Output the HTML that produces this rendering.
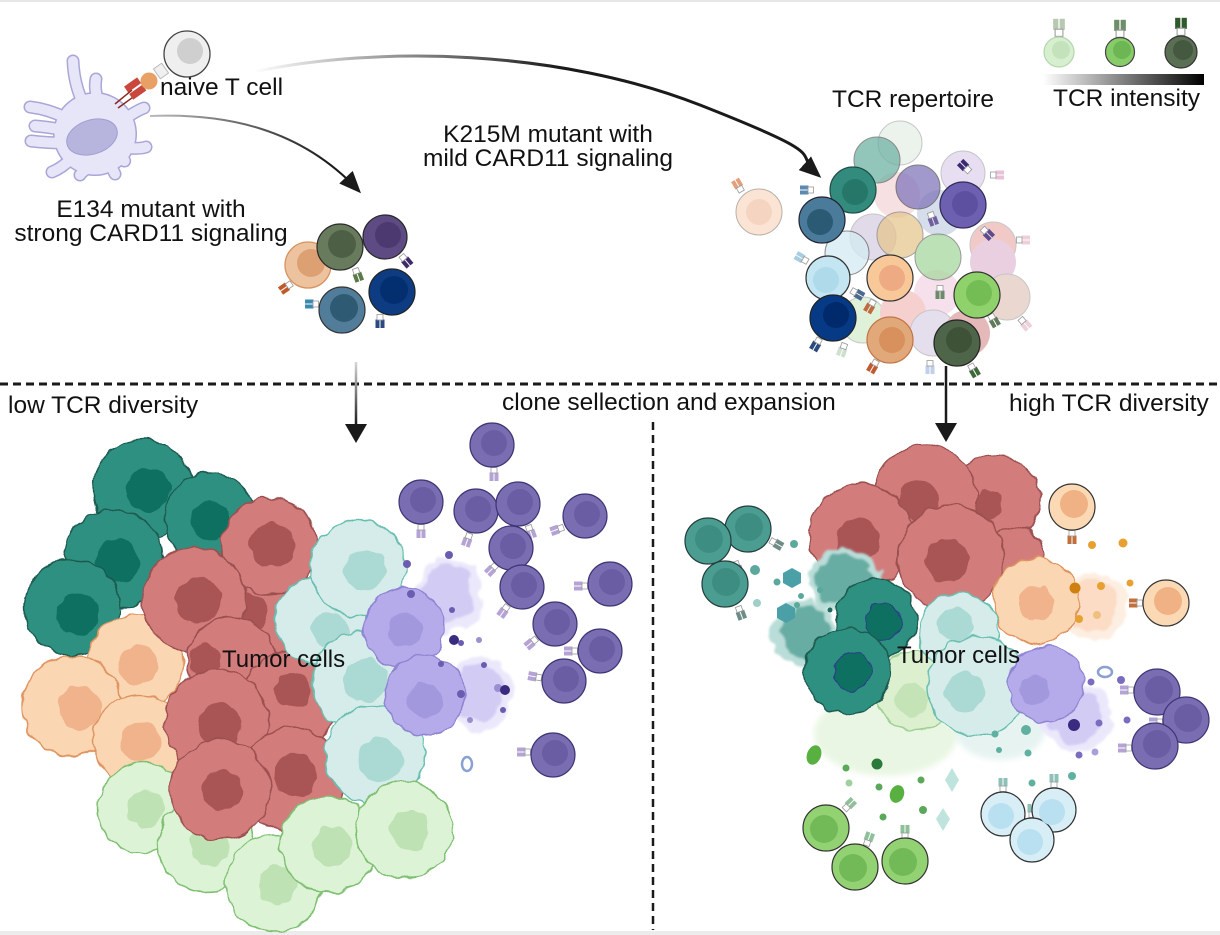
<!DOCTYPE html>
<html><head><meta charset="utf-8"><style>
html,body{margin:0;padding:0;background:#fff;}
svg{display:block;}
text{font-family:"Liberation Sans",Arial,sans-serif;fill:#111;}
</style></head><body>
<svg width="1220" height="935" viewBox="0 0 1220 935" xmlns="http://www.w3.org/2000/svg">
<defs>
<filter id="bump" x="-25%" y="-25%" width="150%" height="150%">
<feTurbulence type="fractalNoise" baseFrequency="0.09" numOctaves="1" seed="4" result="n"/>
<feDisplacementMap in="SourceGraphic" in2="n" scale="9" xChannelSelector="R" yChannelSelector="G"/>
</filter>
<filter id="halo" x="-30%" y="-30%" width="160%" height="160%">
<feTurbulence type="fractalNoise" baseFrequency="0.06" numOctaves="2" seed="7" result="n"/>
<feDisplacementMap in="SourceGraphic" in2="n" scale="16" xChannelSelector="R" yChannelSelector="G" result="d"/>
<feGaussianBlur in="d" stdDeviation="1"/>
</filter>
<filter id="blur" x="-40%" y="-40%" width="180%" height="180%"><feGaussianBlur stdDeviation="3"/></filter>
<linearGradient id="gBig" gradientUnits="userSpaceOnUse" x1="253" y1="0" x2="560" y2="0"><stop offset="0" stop-color="#fff"/><stop offset="1" stop-color="#1a1a1a"/></linearGradient>
<linearGradient id="gSmall" gradientUnits="userSpaceOnUse" x1="150" y1="0" x2="330" y2="0"><stop offset="0" stop-color="#bbb"/><stop offset="1" stop-color="#1a1a1a"/></linearGradient>
<linearGradient id="gV" gradientUnits="userSpaceOnUse" x1="0" y1="360" x2="0" y2="425"><stop offset="0" stop-color="#ddd"/><stop offset="1" stop-color="#1a1a1a"/></linearGradient>
<linearGradient id="gBar" x1="0" y1="0" x2="1" y2="0"><stop offset="0" stop-color="#fff"/><stop offset="1" stop-color="#000"/></linearGradient>
<marker id="ah" viewBox="0 0 10 10" refX="8" refY="5" markerUnits="userSpaceOnUse" markerWidth="22" markerHeight="22" orient="auto"><path d="M0,0.8 L10,5 L0,9.2 z" fill="#1a1a1a"/></marker>
<g id="rc"><rect x="-4.5" y="-14" width="4" height="8.5"/><rect x="0.5" y="-14" width="4" height="8.5"/><rect x="-3" y="-6" width="6" height="5.5" fill="#fff" stroke="#999" stroke-width="0.8"/></g>
</defs>

<rect x="0" y="0" width="1220" height="2" fill="#e6e6e6"/>
<rect x="0" y="931" width="1220" height="4" fill="#ececec"/>

<!-- Dendritic cell -->
<g stroke-linecap="round" fill="none">
<g stroke="#a9a6d8" stroke-width="13">
<path d="M84,105 Q74,85 73,61"/><path d="M98,100 Q94,88 96,79"/><path d="M66,118 Q48,109 30,107"/><path d="M64,130 Q48,127 35,126"/><path d="M66,143 Q48,143 31,141"/><path d="M72,158 Q62,168 52,172"/><path d="M88,168 Q82,172 80,175"/><path d="M112,168 Q114,172 115,174"/><path d="M128,148 Q140,149 146,147"/><path d="M126,118 Q138,110 144,108"/><path d="M122,160 Q126,162 124,160"/>
<circle cx="95" cy="134" r="42" fill="#a9a6d8" stroke="none"/>
</g>
<g stroke="#e7e5f8" stroke-width="10">
<path d="M84,105 Q74,85 73,61"/><path d="M98,100 Q94,88 96,79"/><path d="M66,118 Q48,109 30,107"/><path d="M64,130 Q48,127 35,126"/><path d="M66,143 Q48,143 31,141"/><path d="M72,158 Q62,168 52,172"/><path d="M88,168 Q82,172 80,175"/><path d="M112,168 Q114,172 115,174"/><path d="M128,148 Q140,149 146,147"/><path d="M126,118 Q138,110 144,108"/><path d="M122,160 Q126,162 124,160"/>
<circle cx="95" cy="134" r="40.5" fill="#e7e5f8" stroke="none"/>
</g>
</g>
<ellipse cx="92" cy="137" rx="26" ry="17" transform="rotate(-18 92 137)" fill="#b7b4de" stroke="#a19ed2" stroke-width="1"/>
<!-- MHC / TCR -->
<path d="M115,104 L132,90 M118,108 L136,95" stroke="#8a2a22" stroke-width="1.5"/>
<g transform="translate(136,88) rotate(-35)"><rect x="-9" y="-8" width="16" height="7" fill="#c9473d"/><rect x="-9" y="1" width="16" height="7" fill="#c9473d"/></g>
<circle cx="149" cy="81" r="8.5" fill="#e9a064"/>
<g transform="translate(161,71) rotate(-35)"><rect x="-5" y="-6" width="10" height="12" fill="#f0f0f0" stroke="#bbb" stroke-width="1"/></g>
<circle cx="187" cy="54" r="23" fill="#efefef" stroke="#444" stroke-width="1.3"/>
<circle cx="190" cy="51" r="13" fill="#cfcfcf"/>

<!-- Arrows top -->
<path d="M253,72 C380,45 560,50 700,105 S790,150 818,175" fill="none" stroke="url(#gBig)" stroke-width="3" marker-end="url(#ah)"/>
<path d="M150,116 C225,113 300,128 358,190" fill="none" stroke="url(#gSmall)" stroke-width="2" marker-end="url(#ah)"/>

<!-- Top texts -->
<text x="160" y="95" font-size="24.5">naive T cell</text>
<text x="151" y="217" font-size="24.5" text-anchor="middle">E134 mutant with</text>
<text x="151" y="241" font-size="24.5" text-anchor="middle">strong CARD11 signaling</text>
<text x="548" y="142" font-size="24.5" text-anchor="middle">K215M mutant with</text>
<text x="548" y="166" font-size="24.5" text-anchor="middle">mild CARD11 signaling</text>
<text x="832" y="107" font-size="24.5">TCR repertoire</text>
<text x="1053" y="106" font-size="24.5">TCR intensity</text>

<!-- Legend -->
<rect x="1043" y="74" width="161" height="11" fill="url(#gBar)"/>
<use href="#rc" transform="translate(1059,37) scale(1.3)" fill="#b7c9b2"/>
<circle cx="1059" cy="52" r="15" fill="#d6efcf" stroke="#b5d6ad" stroke-width="1.2"/><circle cx="1061" cy="50" r="9" fill="#c4e2bc"/>
<use href="#rc" transform="translate(1120,38) scale(1.3)" fill="#6f8e6a"/>
<circle cx="1120" cy="52" r="14.5" fill="#86cc68" stroke="#444" stroke-width="1.2"/><circle cx="1122" cy="50" r="9" fill="#6cb654"/>
<use href="#rc" transform="translate(1181,36) scale(1.3)" fill="#2f5a2c"/>
<circle cx="1181" cy="52" r="16" fill="#5b6f55" stroke="#333" stroke-width="1.2"/><circle cx="1183" cy="50" r="10" fill="#455840"/>

<!-- E134 cluster -->
<use href="#rc" transform="translate(292,283) rotate(235)" fill="#c05a28"/>
<use href="#rc" transform="translate(355,268) rotate(160)" fill="#5a7a48"/>
<use href="#rc" transform="translate(401,255) rotate(140)" fill="#3c2a6a"/>
<use href="#rc" transform="translate(319,304) rotate(270)" fill="#3a8ab0"/>
<use href="#rc" transform="translate(380,314) rotate(180)" fill="#2a4a80"/>
<circle cx="308" cy="265" r="23" fill="#edc29e" stroke="#d8925e" stroke-width="1.3"/><circle cx="311" cy="263" r="14" fill="#dda073"/>
<circle cx="385" cy="237" r="22" fill="#5f4b83" stroke="#2a2a2a" stroke-width="1.2"/><circle cx="388" cy="235" r="13" fill="#4c396f"/>
<circle cx="340" cy="247" r="23" fill="#687b5d" stroke="#2a2a2a" stroke-width="1.2"/><circle cx="342" cy="244" r="14" fill="#4d6045"/>
<circle cx="342" cy="310" r="23" fill="#517d9b" stroke="#333" stroke-width="1.2"/><circle cx="344" cy="308" r="14" fill="#2f5a74"/>
<circle cx="392" cy="292" r="23" fill="#0d3c82" stroke="#222" stroke-width="1.2"/><circle cx="394" cy="290" r="14" fill="#032f70"/>

<!-- TCR repertoire cluster -->
<g>
<use href="#rc" transform="translate(742,192) rotate(-30)" fill="#e4a07a"/>
<circle cx="759" cy="212" r="23" fill="#fbe4d3" stroke="#b8b0a8" stroke-width="1"/><circle cx="759" cy="212" r="13" fill="#f6d4c2"/>
<g opacity="0.55">
<circle cx="900" cy="143" r="22" fill="#dde9de" stroke="#999"/>
<circle cx="963" cy="173" r="22" fill="#d4c4e6" stroke="#999"/>
<circle cx="897" cy="195" r="23" fill="#f2c8cc"/>
<circle cx="940" cy="213" r="23" fill="#b8c4dc"/>
<circle cx="873" cy="237" r="23" fill="#c8bcd8" stroke="#999"/>
<circle cx="993" cy="245" r="23" fill="#e6a09a" stroke="#999"/>
<circle cx="993" cy="262" r="23" fill="#d8a8c8"/>
<circle cx="937" cy="293" r="23" fill="#f0c8dc"/>
<circle cx="1007" cy="297" r="23" fill="#dab8a8" stroke="#999"/>
<circle cx="863" cy="320" r="23" fill="#c8e6bc" stroke="#999"/>
<circle cx="903" cy="313" r="23" fill="#f0a8a8"/>
<circle cx="933" cy="333" r="23" fill="#d0c4e0" stroke="#999"/>
<circle cx="967" cy="333" r="23" fill="#d08080"/>
</g>
<g opacity="0.75">
<circle cx="877" cy="160" r="23" fill="#6fb3a4" stroke="#666"/>
<circle cx="918" cy="187" r="22" fill="#8276bc" stroke="#555"/>
<circle cx="847" cy="253" r="22" fill="#d4ecf2" stroke="#666"/>
<circle cx="900" cy="235" r="23" fill="#e6c690" stroke="#888"/>
<circle cx="938" cy="257" r="23" fill="#a8d89e" stroke="#777"/>
</g>
<use href="#rc" transform="translate(814,190) rotate(-90)" fill="#5a8ab0"/>
<use href="#rc" transform="translate(970,172) rotate(-45)" fill="#3c2a70"/>
<use href="#rc" transform="translate(990,175) rotate(90)" fill="#e8c0d8"/>
<use href="#rc" transform="translate(982,228) rotate(135)" fill="#5a4a90"/>
<use href="#rc" transform="translate(930,212) rotate(160)" fill="#7060a0"/>
<use href="#rc" transform="translate(808,262) rotate(-60)" fill="#a8cce0"/>
<use href="#rc" transform="translate(851,290) rotate(120)" fill="#4a6a90"/>
<use href="#rc" transform="translate(874,300) rotate(210)" fill="#c06a40"/>
<use href="#rc" transform="translate(940,285) rotate(180)" fill="#6a8a6a"/>
<use href="#rc" transform="translate(990,314) rotate(150)" fill="#607a5a"/>
<use href="#rc" transform="translate(820,338) rotate(210)" fill="#2a4a80"/>
<use href="#rc" transform="translate(877,360) rotate(210)" fill="#c05a30"/>
<use href="#rc" transform="translate(970,364) rotate(150)" fill="#3e6a3a"/>
<use href="#rc" transform="translate(930,360) rotate(180)" fill="#c0d0e8"/>
<use href="#rc" transform="translate(845,343) rotate(200)" fill="#d0e0d0"/>
<use href="#rc" transform="translate(1020,318) rotate(140)" fill="#eed0d8"/>
<use href="#rc" transform="translate(1016,240) rotate(90)" fill="#eed0d8"/>
<circle cx="853" cy="190" r="23" fill="#328b7c" stroke="#1d4d45" stroke-width="1.2"/><circle cx="855" cy="192" r="13" fill="#26776a"/>
<circle cx="963" cy="205" r="23" fill="#6e60b0" stroke="#2e2a55" stroke-width="1.2"/><circle cx="965" cy="204" r="13" fill="#5d50a0"/>
<circle cx="822" cy="220" r="23" fill="#4b7b9a" stroke="#223" stroke-width="1.2"/><circle cx="820" cy="222" r="13" fill="#2a5a74"/>
<circle cx="828" cy="278" r="22" fill="#c4e6f2" stroke="#333" stroke-width="1.2"/><circle cx="826" cy="280" r="13" fill="#aedaea"/>
<circle cx="890" cy="278" r="23" fill="#f8c898" stroke="#333" stroke-width="1.2"/><circle cx="892" cy="278" r="13" fill="#eeaa82"/>
<circle cx="977" cy="295" r="23" fill="#8fd16a" stroke="#333" stroke-width="1.2"/><circle cx="979" cy="293" r="13" fill="#74bc54"/>
<circle cx="833" cy="318" r="23" fill="#073a85" stroke="#222" stroke-width="1.2"/><circle cx="836" cy="315" r="13" fill="#002a6c"/>
<circle cx="890" cy="340" r="23" fill="#e1a87a" stroke="#c27444" stroke-width="1.2"/><circle cx="892" cy="340" r="13" fill="#d8915c"/>
<circle cx="957" cy="343" r="23" fill="#4f6549" stroke="#222" stroke-width="1.2"/><circle cx="959" cy="340" r="13" fill="#3e5238"/>
</g>

<!-- Dashed separators and arrows -->
<line x1="0" y1="384" x2="1220" y2="384" stroke="#1a1a1a" stroke-width="3" stroke-dasharray="8,5"/>
<line x1="653" y1="422" x2="653" y2="930" stroke="#1a1a1a" stroke-width="2.5" stroke-dasharray="8,5"/>
<line x1="356" y1="362" x2="356" y2="428" stroke="url(#gV)" stroke-width="2.5"/>
<polygon points="345,424 367,424 356,443" fill="#1a1a1a"/>
<line x1="946" y1="366" x2="946" y2="428" stroke="#1a1a1a" stroke-width="2.5"/>
<polygon points="935,423 957,423 946,442" fill="#1a1a1a"/>

<text x="8" y="413" font-size="24.5">low TCR diversity</text>
<text x="502" y="410" font-size="24.5">clone sellection and expansion</text>
<text x="1009" y="411" font-size="24.5">high TCR diversity</text>

<!-- LEFT PANEL tumor -->
<g stroke-width="1.5">
<g fill="#2e9080" stroke="#1c5a4f">
<g filter="url(#bump)"><circle cx="143" cy="490" r="50"/><circle cx="148" cy="490" r="22" fill="#0f7060" stroke="none"/></g>
<g filter="url(#bump)"><circle cx="210" cy="518" r="45"/><circle cx="210" cy="520" r="20" fill="#0f7060" stroke="none"/></g>
<g filter="url(#bump)"><circle cx="114" cy="560" r="50"/><circle cx="118" cy="562" r="22" fill="#0f7060" stroke="none"/></g>
<g filter="url(#bump)"><circle cx="72" cy="607" r="48"/><circle cx="78" cy="615" r="21" fill="#0f7060" stroke="none"/></g>
</g>
<g fill="#fbd6b2" stroke="#df9460">
<g filter="url(#bump)"><circle cx="135" cy="663" r="48"/><circle cx="138" cy="665" r="20" fill="#f1b38c" stroke="none"/></g>
<g filter="url(#bump)"><circle cx="72" cy="706" r="50"/><circle cx="80" cy="708" r="22" fill="#f1b38c" stroke="none"/></g>
<g filter="url(#bump)"><circle cx="139" cy="741" r="46"/><circle cx="140" cy="742" r="20" fill="#f1b38c" stroke="none"/></g>
</g>
<g fill="#dcf3d6" stroke="#7fbf72">
<g filter="url(#bump)"><circle cx="143" cy="808" r="45"/><circle cx="146" cy="808" r="19" fill="#bfe2b4" stroke="none"/></g>
<g filter="url(#bump)"><circle cx="206" cy="844" r="48"/><circle cx="210" cy="846" r="20" fill="#bfe2b4" stroke="none"/></g>
</g>
<g fill="#d27b7b" stroke="#9c5050">
<g filter="url(#bump)"><circle cx="255" cy="620" r="45"/><circle cx="250" cy="612" r="18" fill="#a95555" stroke="none"/></g>
<g filter="url(#bump)"><circle cx="269" cy="546" r="48"/><circle cx="272" cy="545" r="22" fill="#a95555" stroke="none"/></g>
<g filter="url(#bump)"><circle cx="194" cy="600" r="52"/><circle cx="198" cy="600" r="23" fill="#a95555" stroke="none"/></g>
<g filter="url(#bump)"><circle cx="232" cy="662" r="45"/><circle cx="205" cy="660" r="16" fill="#a95555" stroke="none"/></g>
<g filter="url(#bump)"><circle cx="290" cy="700" r="48"/><circle cx="292" cy="690" r="18" fill="#a95555" stroke="none"/></g>
<g filter="url(#bump)"><circle cx="217" cy="722" r="52"/><circle cx="220" cy="725" r="22" fill="#a95555" stroke="none"/></g>
<g filter="url(#bump)"><circle cx="292" cy="780" r="52"/><circle cx="295" cy="775" r="22" fill="#a95555" stroke="none"/></g>
<g filter="url(#bump)"><circle cx="220" cy="790" r="50"/><circle cx="222" cy="790" r="20" fill="#a95555" stroke="none"/></g>
</g>
<g fill="#d5ecea" stroke="#67bfb0">
<g filter="url(#bump)"><circle cx="320" cy="621" r="45"/><circle cx="330" cy="630" r="18" fill="#abd9d3" stroke="none"/></g>
<g filter="url(#bump)"><circle cx="358" cy="568" r="48"/><circle cx="365" cy="570" r="21" fill="#abd9d3" stroke="none"/></g>
<g filter="url(#bump)"><circle cx="362" cy="681" r="50"/><circle cx="365" cy="680" r="22" fill="#abd9d3" stroke="none"/></g>
<g filter="url(#bump)"><circle cx="375" cy="755" r="50"/><circle cx="380" cy="760" r="22" fill="#abd9d3" stroke="none"/></g>
</g>
<g filter="url(#halo)">
<ellipse cx="450" cy="595" rx="33" ry="38" fill="#ebe8fb"/>
<ellipse cx="448" cy="593" rx="25" ry="30" fill="#d2cbf4"/>
<ellipse cx="480" cy="694" rx="33" ry="38" fill="#ebe8fb"/>
<ellipse cx="478" cy="692" rx="25" ry="30" fill="#d2cbf4"/>
</g>
<g fill="#b5abeb" stroke="#8f84d2">
<g filter="url(#bump)"><circle cx="404" cy="628" r="40"/><circle cx="405" cy="630" r="17" fill="#a198dd" stroke="none"/></g>
<g filter="url(#bump)"><circle cx="425" cy="695" r="40"/><circle cx="425" cy="700" r="17" fill="#a198dd" stroke="none"/></g>
</g>
<g fill="#dcf3d6" stroke="#7fbf72">
<g filter="url(#bump)"><circle cx="274" cy="883" r="48"/><circle cx="278" cy="885" r="20" fill="#bfe2b4" stroke="none"/></g>
<g filter="url(#bump)"><circle cx="328" cy="844" r="48"/><circle cx="332" cy="846" r="20" fill="#bfe2b4" stroke="none"/></g>
<g filter="url(#bump)"><circle cx="404" cy="830" r="48"/><circle cx="410" cy="830" r="20" fill="#bfe2b4" stroke="none"/></g>
</g>
</g>
<text x="222" y="667" font-size="24">Tumor cells</text>

<!-- left purple dots -->
<g fill="#6a5cb0">
<circle cx="407" cy="564" r="4"/><circle cx="449" cy="555" r="4"/><circle cx="411" cy="594" r="4"/><circle cx="452" cy="610" r="3"/><circle cx="454" cy="640" r="5" fill="#3a2a80"/><circle cx="461" cy="643" r="3"/><circle cx="479" cy="640" r="3" fill="#9a90d0"/><circle cx="441" cy="664" r="3"/><circle cx="461" cy="694" r="4"/><circle cx="498" cy="688" r="4" fill="#9a90d0"/><circle cx="505" cy="690" r="5" fill="#3a2a80"/><circle cx="484" cy="665" r="3"/><circle cx="470" cy="720" r="3" fill="#9a90d0"/><circle cx="503" cy="710" r="3"/></g>
<ellipse cx="467" cy="764" rx="5" ry="7" fill="none" stroke="#8aa0d4" stroke-width="2.5"/>

<!-- left purple T cells -->
<g fill="#b5a3d6">
<use href="#rc" transform="translate(494,467) rotate(180)"/>
<use href="#rc" transform="translate(421,524) rotate(180)"/>
<use href="#rc" transform="translate(470,533) rotate(200)"/>
<use href="#rc" transform="translate(528,525) rotate(160)"/>
<use href="#rc" transform="translate(564,527) rotate(250)"/>
<use href="#rc" transform="translate(497,564) rotate(225)"/>
<use href="#rc" transform="translate(508,605) rotate(215)"/>
<use href="#rc" transform="translate(588,586) rotate(270)"/>
<use href="#rc" transform="translate(537,638) rotate(230)"/>
<use href="#rc" transform="translate(578,651) rotate(270)"/>
<use href="#rc" transform="translate(542,678) rotate(280)"/>
<use href="#rc" transform="translate(531,752) rotate(270)"/>
</g>
<g fill="#7a6db2" stroke="#3f3575" stroke-width="1.2">
<circle cx="492" cy="445" r="22"/><circle cx="421" cy="502" r="22"/><circle cx="476" cy="511" r="22"/><circle cx="518" cy="504" r="22"/><circle cx="585" cy="516" r="22"/><circle cx="511" cy="548" r="22"/><circle cx="522" cy="587" r="22"/><circle cx="610" cy="584" r="22"/><circle cx="555" cy="624" r="22"/><circle cx="600" cy="651" r="22"/><circle cx="564" cy="681" r="22"/><circle cx="553" cy="755" r="22"/>
</g>
<g fill="#6a5da3">
<circle cx="494" cy="443" r="13"/><circle cx="423" cy="500" r="13"/><circle cx="478" cy="509" r="13"/><circle cx="520" cy="502" r="13"/><circle cx="587" cy="514" r="13"/><circle cx="513" cy="546" r="13"/><circle cx="524" cy="585" r="13"/><circle cx="612" cy="582" r="13"/><circle cx="557" cy="622" r="13"/><circle cx="602" cy="649" r="13"/><circle cx="566" cy="679" r="13"/><circle cx="555" cy="753" r="13"/>
</g>

<!-- RIGHT PANEL -->
<ellipse cx="886" cy="734" rx="72" ry="42" fill="#e6f5df" opacity="0.85" filter="url(#blur)"/>
<ellipse cx="1000" cy="730" rx="45" ry="30" fill="#e0f1ee" opacity="0.8" filter="url(#blur)"/>
<g stroke-width="1.5">
<g fill="#d27b7b" stroke="#9c5050">
<g filter="url(#bump)"><circle cx="995" cy="500" r="45"/><circle cx="988" cy="505" r="15" fill="#a95555" stroke="none"/></g>
<g filter="url(#bump)"><circle cx="925" cy="497" r="52"/><circle cx="919" cy="500" r="20" fill="#a95555" stroke="none"/></g>
<g filter="url(#bump)"><circle cx="1014" cy="557" r="30"/></g>
<g filter="url(#bump)"><circle cx="861" cy="536" r="52"/><circle cx="858" cy="540" r="22" fill="#a95555" stroke="none"/></g>
<g filter="url(#bump)"><circle cx="951" cy="558" r="53"/><circle cx="947" cy="560" r="22" fill="#a95555" stroke="none"/></g>
</g>
<g filter="url(#halo)">
<ellipse cx="1092" cy="606" rx="36" ry="34" fill="#fdeee2"/>
<ellipse cx="1090" cy="605" rx="27" ry="26" fill="#fcdcc4"/>
</g>
<g fill="#fbd6b2" stroke="#df9460">
<g filter="url(#bump)"><circle cx="1036" cy="601" r="43"/><circle cx="1036" cy="603" r="18" fill="#f1b38c" stroke="none"/></g>
</g>
<g filter="url(#halo)">
<ellipse cx="845" cy="581" rx="38" ry="32" fill="#b9ddd8"/>
<ellipse cx="844" cy="580" rx="30" ry="25" fill="#67ada3"/>
<ellipse cx="804" cy="634" rx="33" ry="33" fill="#b9ddd8"/>
<ellipse cx="806" cy="633" rx="25" ry="26" fill="#67ada3"/>
</g>
<g fill="#dcf0d0" stroke="#9fd092">
<g filter="url(#bump)"><circle cx="915" cy="691" r="40"/><circle cx="912" cy="700" r="16" fill="#c4e4b8" stroke="none"/></g>
</g>
<g fill="#2e9080" stroke="#1c5a4f">
<g filter="url(#bump)"><circle cx="876" cy="619" r="40"/><circle cx="884" cy="622" r="18" fill="#0f7060" stroke="#2c3d8a" stroke-width="1"/></g>
<g filter="url(#bump)"><circle cx="848" cy="671" r="43"/><circle cx="852" cy="672" r="19" fill="#0f7060" stroke="#2c3d8a" stroke-width="1"/></g>
</g>
<g fill="#d5ecea" stroke="#67bfb0">
<g filter="url(#bump)"><circle cx="959" cy="633" r="40"/><circle cx="955" cy="625" r="17" fill="#abd9d3" stroke="none"/></g>
<g filter="url(#bump)"><circle cx="977" cy="686" r="50"/><circle cx="965" cy="692" r="20" fill="#abd9d3" stroke="none"/></g>
</g>
<g filter="url(#halo)">
<ellipse cx="1077" cy="718" rx="36" ry="34" fill="#ebe8fb"/>
<ellipse cx="1075" cy="716" rx="27" ry="26" fill="#d2cbf4"/>
</g>
<g fill="#b5abeb" stroke="#8f84d2">
<g filter="url(#bump)"><circle cx="1046" cy="684" r="38"/><circle cx="1035" cy="690" r="15" fill="#a198dd" stroke="none"/></g>
</g>
</g>
<text x="897" y="663" font-size="24">Tumor cells</text>

<!-- right panel particles -->
<polygon points="792,568 801,573 801,583 792,588 783,583 783,573" fill="#4ba0a8"/>
<polygon points="786,603 795,608 795,618 786,623 777,618 777,608" fill="#4ba0a8"/>
<g fill="#5ba89c">
<circle cx="794" cy="544" r="4"/><circle cx="755" cy="570" r="5"/><circle cx="777" cy="582" r="3.5"/><circle cx="801" cy="596" r="3"/><circle cx="757" cy="603" r="4" fill="#9fd0c8"/><circle cx="797" cy="605" r="3"/><circle cx="820" cy="590" r="3"/><circle cx="830" cy="610" r="2.5" fill="#1f6a5e"/></g>
<g fill="#e8a030">
<circle cx="1092" cy="545" r="4"/><circle cx="1123" cy="543" r="4.5"/><circle cx="1075" cy="588" r="5.5" fill="#d08010"/><circle cx="1101" cy="586" r="4"/><circle cx="1130" cy="583" r="3.5"/><circle cx="1079" cy="619" r="4"/><circle cx="1097" cy="615" r="4" fill="#f0c080"/></g>
<g fill="#7a6cc0">
<circle cx="1091" cy="682" r="3.5"/><circle cx="1121" cy="680" r="4"/><circle cx="1074" cy="725" r="6" fill="#3a2a80"/><circle cx="1099" cy="723" r="3.5"/><circle cx="1127" cy="720" r="3.5"/><circle cx="1095" cy="752" r="3.5" fill="#a8a0d8"/><circle cx="1079" cy="755" r="3.5"/></g>
<ellipse cx="1105" cy="672" rx="7" ry="5" fill="none" stroke="#8aa0d4" stroke-width="2.5"/>
<g fill="#5aa85a">
<circle cx="877" cy="764" r="5.5" fill="#2a7a3a"/><circle cx="846" cy="768" r="3.5"/><circle cx="849" cy="783" r="3.5" fill="#9fd0a0"/><circle cx="879" cy="787" r="3.5"/><circle cx="921" cy="780" r="3.5"/><circle cx="923" cy="810" r="4"/><circle cx="883" cy="817" r="3.5"/></g>
<g fill="#5fb0a0">
<circle cx="1026" cy="730" r="5"/><circle cx="1028" cy="753" r="3.5"/><circle cx="995" cy="734" r="3.5"/><circle cx="1032" cy="783" r="3.5"/><circle cx="1072" cy="776" r="4"/><circle cx="999" cy="750" r="3"/></g>
<ellipse cx="814" cy="755" rx="7" ry="10" fill="#58b040" transform="rotate(20 814 755)"/>
<ellipse cx="897" cy="794" rx="7" ry="9" fill="#58b040" transform="rotate(20 897 794)"/>
<polygon points="952,768 959,780 952,792 945,780" fill="#bfe4de"/>
<polygon points="943,808 950,819 943,831 936,819" fill="#bfe4de"/>

<!-- right T cells -->
<g fill="#6f8d88">
<use href="#rc" transform="translate(770,540) rotate(120)"/>
<use href="#rc" transform="translate(735,561) rotate(160)"/>
<use href="#rc" transform="translate(738,606) rotate(160)"/>
</g>
<g fill="#4b9d92" stroke="#223d3a" stroke-width="1.2">
<circle cx="748" cy="529" r="23"/><circle cx="708" cy="541" r="23"/><circle cx="725" cy="584" r="23"/>
</g>
<g fill="#3e8d83"><circle cx="749" cy="527" r="14"/><circle cx="709" cy="539" r="14"/><circle cx="726" cy="582" r="14"/></g>

<use href="#rc" transform="translate(1072,530) rotate(180)" fill="#c0703f"/>
<use href="#rc" transform="translate(1143,603) rotate(270)" fill="#c0703f"/>
<g fill="#fbd9b4" stroke="#333" stroke-width="1.2"><circle cx="1072" cy="507" r="23"/><circle cx="1166" cy="603" r="23"/></g>
<g fill="#f0b284"><circle cx="1074" cy="504" r="14"/><circle cx="1168" cy="601" r="14"/></g>

<g fill="#b5a3d6">
<use href="#rc" transform="translate(1134,690) rotate(270)"/>
<use href="#rc" transform="translate(1163,722) rotate(270)"/>
<use href="#rc" transform="translate(1132,748) rotate(270)"/>
</g>
<g fill="#7a6db2" stroke="#3f3575" stroke-width="1.2"><circle cx="1157" cy="692" r="23"/><circle cx="1186" cy="720" r="23"/><circle cx="1155" cy="746" r="23"/></g>
<g fill="#6a5da3"><circle cx="1159" cy="690" r="14"/><circle cx="1188" cy="718" r="14"/><circle cx="1157" cy="744" r="14"/></g>

<g fill="#8fc0b8">
<use href="#rc" transform="translate(1003,792)"/>
<use href="#rc" transform="translate(1054,788)"/>
<use href="#rc" transform="translate(1032,818)"/>
</g>
<g fill="#d8eef6" stroke="#333" stroke-width="1.2"><circle cx="1003" cy="814" r="22"/><circle cx="1054" cy="810" r="22"/><circle cx="1032" cy="840" r="22"/></g>
<g fill="#b8e0f0"><circle cx="1001" cy="816" r="13"/><circle cx="1052" cy="812" r="13"/><circle cx="1030" cy="842" r="13"/></g>

<g fill="#8fc09a">
<use href="#rc" transform="translate(844,810) rotate(45)"/>
<use href="#rc" transform="translate(866,846) rotate(20)"/>
<use href="#rc" transform="translate(905,839)"/>
</g>
<g fill="#93d272" stroke="#333" stroke-width="1.2"><circle cx="826" cy="828" r="23"/><circle cx="855" cy="867" r="23"/><circle cx="905" cy="861" r="23"/></g>
<g fill="#72b958"><circle cx="824" cy="829" r="14"/><circle cx="853" cy="868" r="14"/><circle cx="903" cy="862" r="14"/></g>
</svg>
</body></html>
